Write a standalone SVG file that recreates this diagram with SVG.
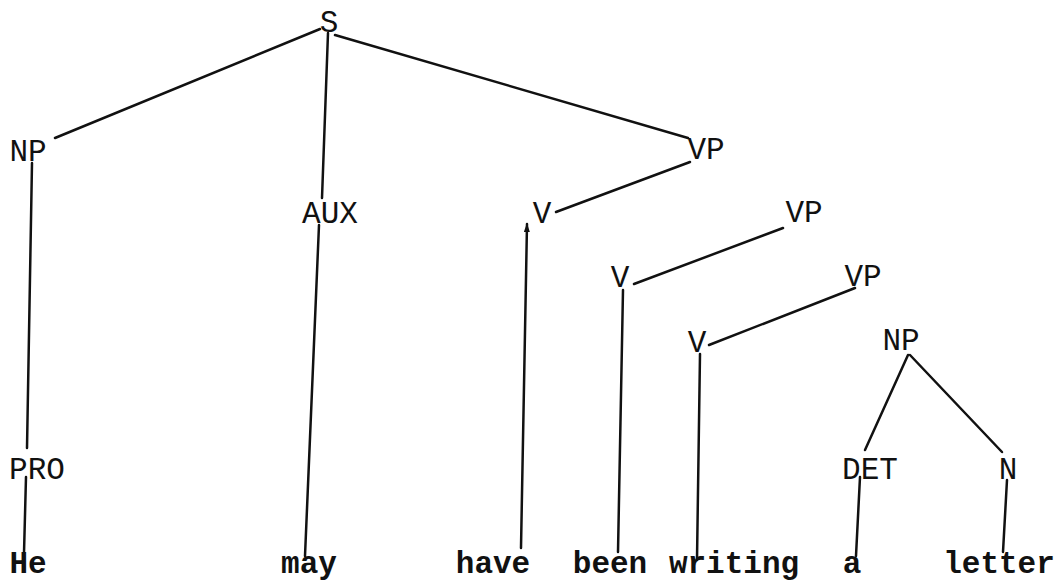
<svg xmlns="http://www.w3.org/2000/svg" width="1061" height="581" viewBox="0 0 1061 581">
<style>
.lbl{font-family:"Liberation Mono","Courier New",monospace;font-size:31px;fill:#111;text-anchor:middle}
.wd{font-family:"Liberation Mono","Courier New",monospace;font-size:31px;font-weight:bold;fill:#111;text-anchor:middle}
.edge{stroke:#111;stroke-width:2.5;fill:none;stroke-linecap:round}
</style>
<defs>
<marker id="arr" markerWidth="10" markerHeight="8" refX="8" refY="3" orient="auto" markerUnits="userSpaceOnUse">
<path d="M0,0 L9,3 L0,6 Z" fill="#111"/>
</marker>
</defs>
<rect width="1061" height="581" fill="#fff"/>
<g id="connectors">
<line class="edge" x1="320" y1="29" x2="55" y2="138"/>
<line class="edge" x1="328" y1="33" x2="322" y2="198"/>
<line class="edge" x1="335" y1="35" x2="688" y2="138"/>
<line class="edge" x1="32" y1="163" x2="27" y2="448"/>
<line class="edge" x1="26" y1="477" x2="24" y2="553"/>
<line class="edge" x1="319" y1="225" x2="305" y2="556"/>
<line class="edge" x1="690" y1="162" x2="556" y2="212"/>
<path class="edge" d="M521,548 L527,224" marker-end="url(#arr)"/>
<line class="edge" x1="783" y1="228" x2="634" y2="284"/>
<line class="edge" x1="623" y1="290" x2="618" y2="552"/>
<line class="edge" x1="855" y1="288" x2="709" y2="345"/>
<line class="edge" x1="700" y1="354" x2="697" y2="560"/>
<line class="edge" x1="908" y1="355" x2="865" y2="450"/>
<line class="edge" x1="910" y1="355" x2="1002" y2="452"/>
<line class="edge" x1="860" y1="477" x2="856" y2="556"/>
<line class="edge" x1="1007" y1="480" x2="1003" y2="552"/>
</g>
<g id="n-S"><text class="lbl" x="329" y="32">S</text></g>
<g id="n-NP1"><text class="lbl" x="28" y="161">NP</text></g>
<g id="n-VP1"><text class="lbl" x="706" y="159">VP</text></g>
<g id="n-AUX"><text class="lbl" x="330" y="223">AUX</text></g>
<g id="n-V1"><text class="lbl" x="542" y="223">V</text></g>
<g id="n-VP2"><text class="lbl" x="804" y="222">VP</text></g>
<g id="n-V2"><text class="lbl" x="620" y="287">V</text></g>
<g id="n-VP3"><text class="lbl" x="863" y="286">VP</text></g>
<g id="n-V3"><text class="lbl" x="697" y="352">V</text></g>
<g id="n-NP2"><text class="lbl" x="901" y="350">NP</text></g>
<g id="n-PRO"><text class="lbl" x="37" y="479">PRO</text></g>
<g id="n-DET"><text class="lbl" x="870" y="479">DET</text></g>
<g id="n-N"><text class="lbl" x="1008" y="479">N</text></g>
<g id="w-He"><text class="wd" x="28" y="573">He</text></g>
<g id="w-may"><text class="wd" x="309" y="573">may</text></g>
<g id="w-have"><text class="wd" x="493" y="573">have</text></g>
<g id="w-been"><text class="wd" x="610" y="573">been</text></g>
<g id="w-writing"><text class="wd" x="734" y="573">writing</text></g>
<g id="w-a"><text class="wd" x="852" y="573">a</text></g>
<g id="w-letter"><text class="wd" x="999" y="573">letter</text></g>
</svg>
